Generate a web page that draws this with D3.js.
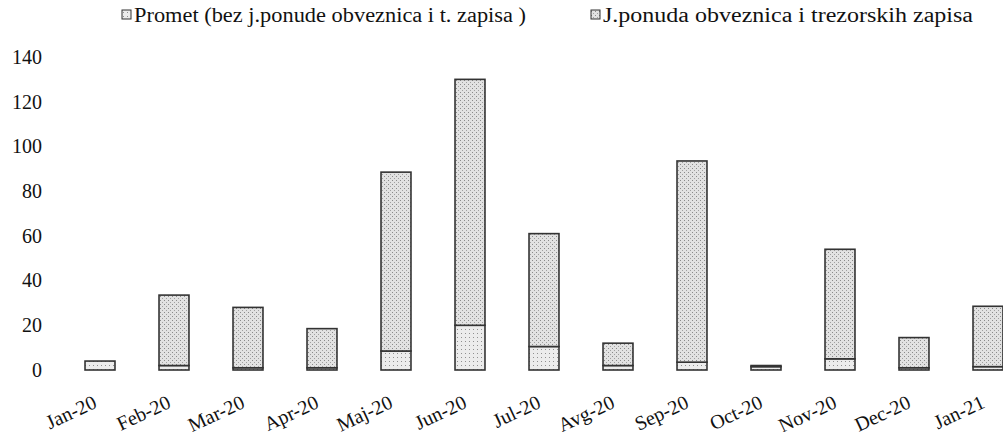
<!DOCTYPE html>
<html>
<head>
<meta charset="utf-8">
<script src="https://cdn.jsdelivr.net/npm/d3@7"></script>
<style>
  body { margin: 0; background: #fff; }
  svg text { font-family: "Liberation Serif", "Times New Roman", serif; }
</style>
</head>
<body>
<div id="chart"></div>
<script>
var months = ["Jan-20","Feb-20","Mar-20","Apr-20","Maj-20","Jun-20","Jul-20","Avg-20","Sep-20","Oct-20","Nov-20","Dec-20","Jan-21"];
var promet = [4, 2, 1, 1, 8.5, 20, 10.5, 2, 3.5, 1.5, 5, 1, 1.5];
var jponuda = [0, 31.5, 27, 17.5, 80, 110, 50.5, 10, 90, 0.5, 49, 13.5, 27];
var yTicks = [0, 20, 40, 60, 80, 100, 120, 140];
var seriesNames = ["Promet (bez j.ponude obveznica i t. zapisa )", "J.ponuda obveznica i trezorskih zapisa"];

var WIDTH = 1003, HEIGHT = 432;

var svg = d3.select("#chart")
    .append("svg")
    .attr("width", WIDTH)
    .attr("height", HEIGHT);

// stippled grey fill, like the scan
var defs = svg.append("defs");
var pat = defs.append("pattern")
    .attr("id", "stipple")
    .attr("width", 4).attr("height", 4)
    .attr("patternUnits", "userSpaceOnUse");
pat.append("rect").attr("width", 4).attr("height", 4).attr("fill", "#e2e2e2");
pat.append("rect").attr("x", 0).attr("y", 0).attr("width", 1).attr("height", 1).attr("fill", "#8a8a8a");
pat.append("rect").attr("x", 2).attr("y", 2).attr("width", 1).attr("height", 1).attr("fill", "#a0a0a0");

var pat2 = defs.append("pattern")
    .attr("id", "stipple2")
    .attr("width", 4).attr("height", 4)
    .attr("patternUnits", "userSpaceOnUse");
pat2.append("rect").attr("width", 4).attr("height", 4).attr("fill", "#ececec");
pat2.append("rect").attr("x", 1).attr("y", 1).attr("width", 1).attr("height", 1).attr("fill", "#909090");

var xScale = d3.scaleBand()
    .domain(months)
    .range([63, 1025])
    .paddingInner(0.595)
    .paddingOuter(0.2975);

var yScale = d3.scaleLinear()
    .domain([0, 140])
    .range([370, 57]);

var table = months.map(function(m, i) {
    return { month: m, promet: promet[i], jponuda: jponuda[i] };
});
var stack = d3.stack().keys(["promet", "jponuda"])(table);
var fills = ["url(#stipple2)", "url(#stipple)"];

stack.forEach(function(layer, k) {
    svg.append("g")
        .selectAll("rect")
        .data(layer.filter(function(d) { return d[1] - d[0] > 0; }))
        .enter()
        .append("rect")
        .attr("x", function(d) { return xScale(d.data.month); })
        .attr("y", function(d) { return yScale(d[1]); })
        .attr("width", xScale.bandwidth())
        .attr("height", function(d) { return yScale(d[0]) - yScale(d[1]); })
        .attr("fill", fills[k])
        .attr("stroke", "#333")
        .attr("stroke-width", 1.6);
});

// y axis labels only (no axis line in the original)
var yAxis = d3.axisLeft(yScale).tickValues(yTicks).tickSize(0).tickPadding(0);
var gy = svg.append("g")
    .attr("transform", "translate(42,0)")
    .call(yAxis)
    .attr("font-size", 20);
gy.select(".domain").remove();
gy.selectAll("text").attr("fill", "#111");

// x axis labels, slanted
var xAxis = d3.axisBottom(xScale).tickSize(0).tickPadding(0);
var gx = svg.append("g")
    .attr("transform", "translate(0,370)")
    .call(xAxis)
    .attr("font-size", 20);
gx.select(".domain").remove();
gx.selectAll("text")
    .attr("fill", "#111")
    .attr("x", 0).attr("y", 0).attr("dy", 0)
    .style("text-anchor", "end")
    .attr("transform", "translate(-2,37) rotate(-25)");

// legend (scan is a bit wider than the font, so fit the measured width)
var legendX = [122, 591];
var legendW = [392, 370];
seriesNames.forEach(function(name, i) {
    var g = svg.append("g").attr("transform", "translate(" + legendX[i] + ",15)");
    g.append("rect")
        .attr("x", 0).attr("y", -5)
        .attr("width", 9).attr("height", 9)
        .attr("fill", fills[i])
        .attr("stroke", "#333")
        .attr("stroke-width", 1);
    g.append("text")
        .attr("x", 12)
        .attr("y", 0)
        .attr("dy", "0.35em")
        .attr("font-size", 20)
        .attr("textLength", legendW[i])
        .attr("lengthAdjust", "spacingAndGlyphs")
        .attr("fill", "#111")
        .text(name);
});
</script>
</body>
</html>
